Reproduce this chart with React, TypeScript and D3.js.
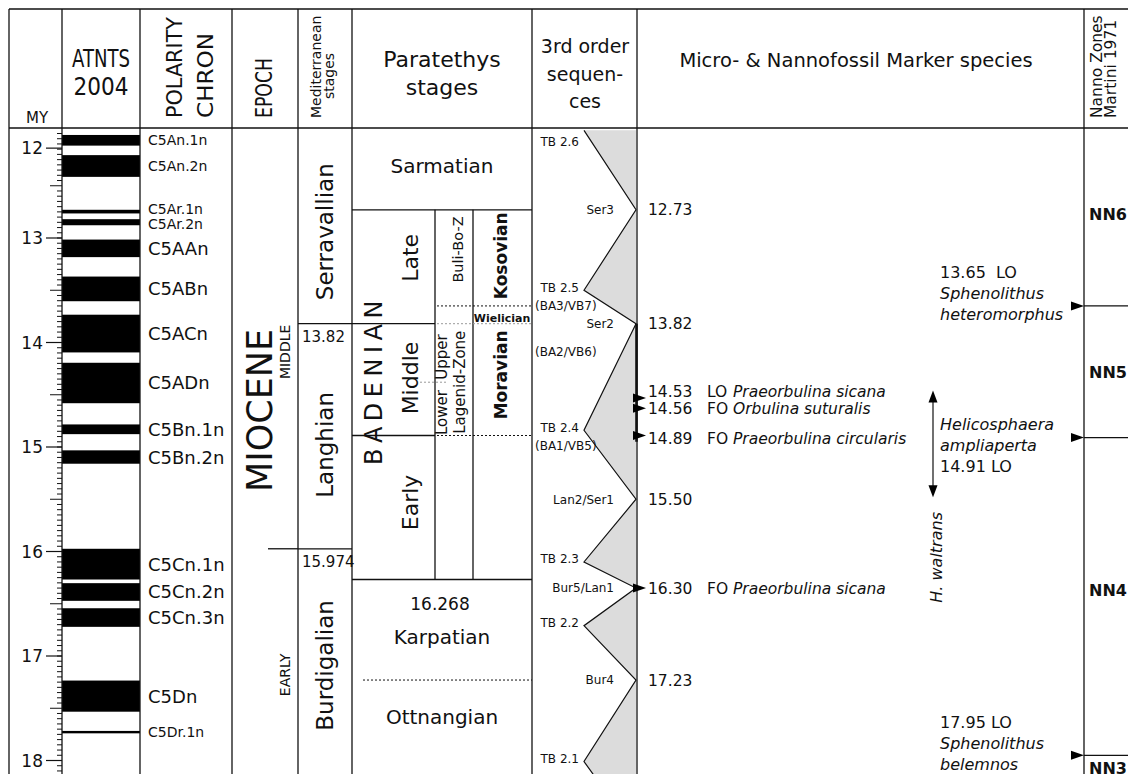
import React from "react";
import * as d3 from "d3";

// ---------------- data ----------------
const axisValues = [12, 13, 14, 15, 16, 17, 18];
const axisValueAt = [12.14, 13, 14, 15, 16, 17, 18];

const chronNames = ["C5An.1n", "C5An.2n", "C5Ar.1n", "C5Ar.2n", "C5AAn", "C5ABn", "C5ACn", "C5ADn", "C5Bn.1n", "C5Bn.2n", "C5Cn.1n", "C5Cn.2n", "C5Cn.3n", "C5Dn", "C5Dr.1n"];
const chronTops = [12.014, 12.207, 12.73, 12.82, 13.015, 13.369, 13.734, 14.194, 14.784, 15.032, 15.974, 16.303, 16.543, 17.235, 17.717];
const chronBases = [12.116, 12.415, 12.765, 12.878, 13.183, 13.605, 14.095, 14.581, 14.877, 15.16, 16.268, 16.472, 16.721, 17.533, 17.74];
const minorChronNames = ["C5An.1n", "C5An.2n", "C5Ar.1n", "C5Ar.2n", "C5Dr.1n"];

const epochName = "MIOCENE";
const epochLabelAt = 14.65;
const subEpochs = [
  { name: "MIDDLE", top: 11.96, base: 15.974, labelAt: 14.09 },
  { name: "EARLY", top: 15.974, base: 18.14, labelAt: 17.18 },
];

const medStages = [
  { name: "Serravallian", top: 11.96, base: 13.82, labelAt: 12.94, ageText: "" },
  { name: "Langhian", top: 13.82, base: 15.974, labelAt: 14.98, ageText: "13.82" },
  { name: "Burdigalian", top: 15.974, base: 18.14, labelAt: 17.09, ageText: "15.974" },
];

const paraStages = [
  { name: "Sarmatian", top: 11.96, base: 12.73, labelAt: 12.31 },
  { name: "Karpatian", top: 16.268, base: 17.23, labelAt: 16.82 },
  { name: "Ottnangian", top: 17.23, base: 18.14, labelAt: 17.58 },
];
const karpatianAgeText = "16.268";
const karpatianAgeAt = 16.5;

const badenianName = "BADENIAN";
const badenianTop = 12.73;
const badenianBase = 16.268;
const badenianLabelAt = 14.36;
const badenianSubstages = [
  { name: "Late", top: 12.73, base: 13.82, labelAt: 13.19 },
  { name: "Middle", top: 13.82, base: 14.89, labelAt: 14.34 },
  { name: "Early", top: 14.89, base: 16.268, labelAt: 15.53 },
];
const regionalStages = [
  { name: "Kosovian", top: 12.73, base: 13.65, labelAt: 13.17 },
  { name: "Wielician", top: 13.65, base: 13.82, labelAt: 13.77 },
  { name: "Moravian", top: 13.82, base: 14.89, labelAt: 14.31 },
];
const lagenidZones = [
  { name: "Buli-Bo-Z", labelAt: 13.11 },
  { name: "Upper", labelAt: 14.14 },
  { name: "Lower", labelAt: 14.67 },
];
const lagenidTitle = "Lagenid-Zone";
const lagenidTitleAt = 14.38;
const lowerUpperBoundary = 14.38;

const seqLabels = ["TB 2.6", "Ser3", "TB 2.5", "Ser2", "TB 2.4", "Lan2/Ser1", "TB 2.3", "Bur5/Lan1", "TB 2.2", "Bur4", "TB 2.1", ""];
const seqAges = [11.97, 12.73, 13.5, 13.82, 14.84, 15.5, 16.1, 16.35, 16.71, 17.23, 18.01, 18.7];
const seqSides = ["L", "R", "L", "R", "L", "R", "L", "R", "L", "R", "L", "R"];
const baLabels = ["(BA3/VB7)", "(BA2/VB6)", "(BA1/VB5)"];
const baLabelAt = [13.645, 14.09, 14.99];

const foramAges = ["12.73", "13.82", "14.53", "14.56", "14.89", "15.50", "16.30", "17.23"];
const foramTextAt = [12.73, 13.82, 14.47, 14.635, 14.92, 15.5, 16.35, 17.23];
const foramArrowAt = [12.73, 13.82, 14.53, 14.63, 14.89, 15.5, 16.35, 17.23];
const foramEvents = ["", "", "LO", "FO", "FO", "", "FO", ""];
const foramSpecies = ["", "", "Praeorbulina sicana", "Orbulina suturalis", "Praeorbulina circularis", "", "Praeorbulina sicana", ""];

const nannoZones = ["NN6", "NN5", "NN4", "NN3"];
const nannoZoneLabelAt = [12.77, 14.28, 16.37, 18.07];
const nannoBoundaries = [13.65, 14.91, 17.95];
const nannoEventLines = [
  ["13.65  LO", "Sphenolithus", "heteromorphus"],
  ["Helicosphaera", "ampliaperta", "14.91 LO"],
  ["17.95 LO", "Sphenolithus", "belemnos"],
];
const nannoEventTextAt = [13.33, 14.78, 17.63];
const waltransName = "H. waltrans";
const waltransRange = [14.46, 15.48];
const waltransLabelAt = 16.49;

// ---------------- drawing ----------------
const F = "DejaVu Sans";
const INK = "#111";

function VT(props: any) {
  const { x, y, anchor = "middle", size, weight, italic, ls, tl, children, fill } = props;
  return (
    <text
      transform={`translate(${x},${y}) rotate(-90)`}
      textAnchor={anchor}
      fontSize={size}
      fontWeight={weight}
      fontStyle={italic ? "italic" : undefined}
      letterSpacing={ls}
      textLength={tl}
      lengthAdjust={tl ? "spacingAndGlyphs" : undefined}
      fill={fill || INK}
    >
      {children}
    </text>
  );
}

export default function App() {
  const y = d3.scaleLinear().domain([12, 18]).range([133.5, 760.5]);
  const topY = 128;
  const botY = 774;
  const headTop = 9;
  const colX = [9, 62, 140, 232, 298, 352, 532, 637, 1084];
  const lw = 1.3;
  const xSeq = d3.scalePoint<string>().domain(["L", "R"]).range([584, 636]);

  const minorTicks = d3.range(240, 364).map((i) => i * 0.05).filter((v) => y(v) > topY + 1);

  const seqPts: [number, number][] = seqAges.map((a, i) => [xSeq(seqSides[i]) as number, y(a)]);
  const polyPts: [number, number][] = [...seqPts, [636, y(seqAges[seqAges.length - 1])], [636, y(seqAges[0])]];
  const line = d3.line();

  // chron label positions with simple de-overlap
  const chronLabelY = chronNames.map((_, i) => y((chronTops[i] + chronBases[i]) / 2));
  for (let i = 1; i < chronLabelY.length; i++) {
    const gap = minorChronNames.includes(chronNames[i]) && minorChronNames.includes(chronNames[i - 1]) ? 15 : 19;
    const d = chronLabelY[i] - chronLabelY[i - 1];
    if (d < gap) {
      chronLabelY[i - 1] -= (gap - d) / 2;
      chronLabelY[i] += (gap - d) / 2;
    }
  }

  const dotted = (yy: number, x1: number, x2: number, grey = false, key?: string) => (
    <line key={key} x1={x1} x2={x2} y1={yy} y2={yy} stroke={grey ? "#9a9a9a" : INK} strokeWidth={1} strokeDasharray="2,2" />
  );

  return (
    <svg
      width={1128}
      height={774}
      style={{ position: "absolute", left: 0, top: 0, background: "#fff" }}
      fontFamily={F}
    >
      <rect x={0} y={0} width={1128} height={774} fill="#fff" />

      {/* 3rd order sequences polygon */}
      <polygon points={polyPts.map((p) => p.join(",")).join(" ")} fill="#dcdcdc" />
      <path d={line(seqPts) || ""} fill="none" stroke={INK} strokeWidth={1.2} />
      <line x1={636.5} x2={636.5} y1={y(13.82)} y2={y(14.95)} stroke={INK} strokeWidth={2.6} />

      {/* ATNTS bars */}
      {chronNames.map((n, i) => (
        <rect key={n} x={colX[1]} y={y(chronTops[i])} width={colX[2] - colX[1]} height={y(chronBases[i]) - y(chronTops[i])} fill="#000" />
      ))}

      {/* grid: header lines and columns */}
      <line x1={colX[0]} x2={1128} y1={headTop} y2={headTop} stroke={INK} strokeWidth={lw} />
      <line x1={colX[0]} x2={1128} y1={topY} y2={topY} stroke={INK} strokeWidth={lw} />
      {colX.map((x) => (
        <line key={x} x1={x} x2={x} y1={headTop} y2={botY} stroke={INK} strokeWidth={lw} />
      ))}

      {/* header texts */}
      <text x={26} y={123} fontSize={15} fill={INK}>MY</text>
      <text x={101} y={67} fontSize={24} textAnchor="middle" textLength={58} lengthAdjust="spacingAndGlyphs" fill={INK}>ATNTS</text>
      <text x={101} y={95} fontSize={24} textAnchor="middle" textLength={55} lengthAdjust="spacingAndGlyphs" fill={INK}>2004</text>
      <VT x={182} y={118} anchor="start" size={22} tl={101}>POLARITY</VT>
      <VT x={213} y={118} anchor="start" size={22} tl={85}>CHRON</VT>
      <VT x={272} y={118} anchor="start" size={23} tl={60}>EPOCH</VT>
      <VT x={321} y={118} anchor="start" size={14}>Mediterranean</VT>
      <VT x={334} y={76} size={14}>stages</VT>
      <text x={442} y={67} fontSize={22} textAnchor="middle" fill={INK}>Paratethys</text>
      <text x={442} y={95} fontSize={22} textAnchor="middle" fill={INK}>stages</text>
      <text x={585} y={53} fontSize={19} textAnchor="middle" fill={INK}>3rd order</text>
      <text x={585} y={81} fontSize={19} textAnchor="middle" fill={INK}>sequen-</text>
      <text x={585} y={108} fontSize={19} textAnchor="middle" fill={INK}>ces</text>
      <text x={856} y={67} fontSize={19.5} textAnchor="middle" fill={INK}>Micro- &amp; Nannofossil Marker species</text>
      <VT x={1102} y={118} anchor="start" size={15.5}>Nanno Zones</VT>
      <VT x={1116} y={118} anchor="start" size={15.5}>Martini 1971</VT>

      {/* MY axis */}
      {minorTicks.map((v, i) => {
        const half = Math.abs(v * 2 - Math.round(v * 2)) < 1e-6 && Math.abs(v - Math.round(v)) > 1e-6;
        return <line key={i} x1={half ? 50 : 57} x2={colX[1]} y1={y(v)} y2={y(v)} stroke={INK} strokeWidth={1} />;
      })}
      {axisValues.map((v, i) => (
        <g key={v}>
          <line x1={46} x2={colX[1]} y1={y(axisValueAt[i])} y2={y(axisValueAt[i])} stroke={INK} strokeWidth={1.2} />
          <text x={43} y={y(axisValueAt[i])} dy="0.36em" fontSize={17} textAnchor="end" fill={INK}>{v}</text>
        </g>
      ))}

      {/* polarity chron labels */}
      {chronNames.map((n, i) => (
        <text key={n} x={148} y={chronLabelY[i]} dy="0.36em" fontSize={minorChronNames.includes(n) ? 14 : 18} fill={INK}>
          {n}
        </text>
      ))}

      {/* epoch */}
      <VT x={272} y={y(epochLabelAt)} size={35}>{epochName}</VT>
      {subEpochs.map((s) => (
        <VT key={s.name} x={290} y={y(s.labelAt)} size={14}>{s.name}</VT>
      ))}
      <line x1={268} x2={colX[4]} y1={y(subEpochs[1].top)} y2={y(subEpochs[1].top)} stroke={INK} strokeWidth={lw} />

      {/* Mediterranean stages */}
      {medStages.map((s, i) => (
        <g key={s.name}>
          {i > 0 && <line x1={colX[4]} x2={colX[5]} y1={y(s.top)} y2={y(s.top)} stroke={INK} strokeWidth={lw} />}
          <VT x={333} y={y(s.labelAt)} size={23}>{s.name}</VT>
          {s.ageText && (
            <text x={302} y={y(s.top) + 18} fontSize={15} fill={INK}>{s.ageText}</text>
          )}
        </g>
      ))}

      {/* Paratethys stages */}
      {paraStages.map((s) => (
        <text key={s.name} x={442} y={y(s.labelAt)} dy="0.36em" fontSize={20} textAnchor="middle" fill={INK}>{s.name}</text>
      ))}
      <text x={440} y={y(karpatianAgeAt)} dy="0.36em" fontSize={17} textAnchor="middle" fill={INK}>{karpatianAgeText}</text>
      <line x1={colX[5]} x2={colX[6]} y1={y(badenianTop)} y2={y(badenianTop)} stroke={INK} strokeWidth={lw} />
      <line x1={colX[5]} x2={colX[6]} y1={y(badenianBase)} y2={y(badenianBase)} stroke={INK} strokeWidth={lw} />
      <line x1={435} x2={435} y1={y(badenianTop)} y2={y(badenianBase)} stroke={INK} strokeWidth={lw} />
      <line x1={473} x2={473} y1={y(badenianTop)} y2={y(badenianBase)} stroke={INK} strokeWidth={lw} />
      <VT x={382} y={y(badenianLabelAt)} size={24} ls={5.5}>{badenianName}</VT>
      {badenianSubstages.map((s, i) => (
        <g key={s.name}>
          {i > 0 && <line x1={colX[5]} x2={435} y1={y(s.top)} y2={y(s.top)} stroke={INK} strokeWidth={lw} />}
          <VT x={418} y={y(s.labelAt)} size={22}>{s.name}</VT>
        </g>
      ))}
      {dotted(y(regionalStages[1].top), 437, colX[6], false, "d1")}
      {dotted(y(regionalStages[2].top), 437, colX[6], true, "d2")}
      {dotted(y(badenianSubstages[2].top), 437, colX[6], false, "d3")}
      {dotted(y(lowerUpperBoundary), 420, 447, true, "d4")}
      {dotted(y(paraStages[2].top), 363, colX[6], false, "d5")}
      {regionalStages.map((s) =>
        y(s.base) - y(s.top) < 30 ? (
          <text key={s.name} x={502} y={y(s.labelAt)} dy="0.36em" fontSize={11} fontWeight="bold" textAnchor="middle" fill={INK}>{s.name}</text>
        ) : (
          <VT key={s.name} x={507} y={y(s.labelAt)} size={17} weight="bold">{s.name}</VT>
        )
      )}
      {lagenidZones.map((z, i) => (
        <VT key={z.name} x={i === 0 ? 463 : 447} y={y(z.labelAt)} size={i === 0 ? 14.5 : 15}>{z.name}</VT>
      ))}
      <VT x={465} y={y(lagenidTitleAt)} size={15}>{lagenidTitle}</VT>

      {/* 3rd order labels */}
      {seqLabels.map((l, i) =>
        l ? (
          <text
            key={l}
            x={seqSides[i] === "L" ? 579 : 614}
            y={Math.max(y(seqAges[i]) - (seqSides[i] === "L" ? 3 : 0), topY + 14)}
            dy="0.36em"
            fontSize={12}
            textAnchor="end"
            fill={INK}
          >
            {l}
          </text>
        ) : null
      )}
      {baLabels.map((l, i) => (
        <text key={l} x={535} y={y(baLabelAt[i])} dy="0.36em" fontSize={12} fill={INK}>{l}</text>
      ))}

      {/* foraminifera markers */}
      {foramAges.map((a, i) => {
        const ty = y(foramTextAt[i]);
        const ay = y(foramArrowAt[i]);
        return (
          <g key={a}>
            {foramEvents[i] && <path d={`M633,${ay - 4.5}L646,${ay}L633,${ay + 4.5}Z`} fill="#000" />}
            <text x={648} y={ty} dy="0.36em" fontSize={15.5} fill={INK}>{a}</text>
            {foramEvents[i] && (
              <text x={707} y={ty} dy="0.36em" fontSize={15.5} fill={INK}>
                {foramEvents[i]}
                <tspan x={733} fontStyle="italic">{foramSpecies[i]}</tspan>
              </text>
            )}
          </g>
        );
      })}

      {/* nannofossil events and zones */}
      {nannoBoundaries.map((b, i) => {
        const yy = y(b);
        return (
          <g key={b}>
            <path d={`M1071,${yy - 4.5}L1084,${yy}L1071,${yy + 4.5}Z`} fill="#000" />
            <line x1={1084} x2={1128} y1={yy} y2={yy} stroke={INK} strokeWidth={lw} />
            {nannoEventLines[i].map((t, j) => (
              <text key={j} x={940} y={y(nannoEventTextAt[i]) + j * 21} dy="0.36em" fontSize={16} fontStyle={/\d/.test(t) ? undefined : "italic"} fill={INK} style={{ whiteSpace: "pre" }}>
                {t}
              </text>
            ))}
          </g>
        );
      })}
      {nannoZones.map((z, i) => (
        <text key={z} x={1089} y={y(nannoZoneLabelAt[i])} dy="0.36em" fontSize={16} fontWeight="bold" fill={INK}>{z}</text>
      ))}
      <line x1={933} x2={933} y1={y(waltransRange[0]) + 8} y2={y(waltransRange[1]) - 8} stroke={INK} strokeWidth={1.2} />
      <path d={`M933,${y(waltransRange[0])}L937.5,${y(waltransRange[0]) + 12}L928.5,${y(waltransRange[0]) + 12}Z`} fill="#000" />
      <path d={`M933,${y(waltransRange[1])}L937.5,${y(waltransRange[1]) - 12}L928.5,${y(waltransRange[1]) - 12}Z`} fill="#000" />
      <VT x={942} y={y(waltransLabelAt)} anchor="start" size={16} italic>{waltransName}</VT>
    </svg>
  );
}
